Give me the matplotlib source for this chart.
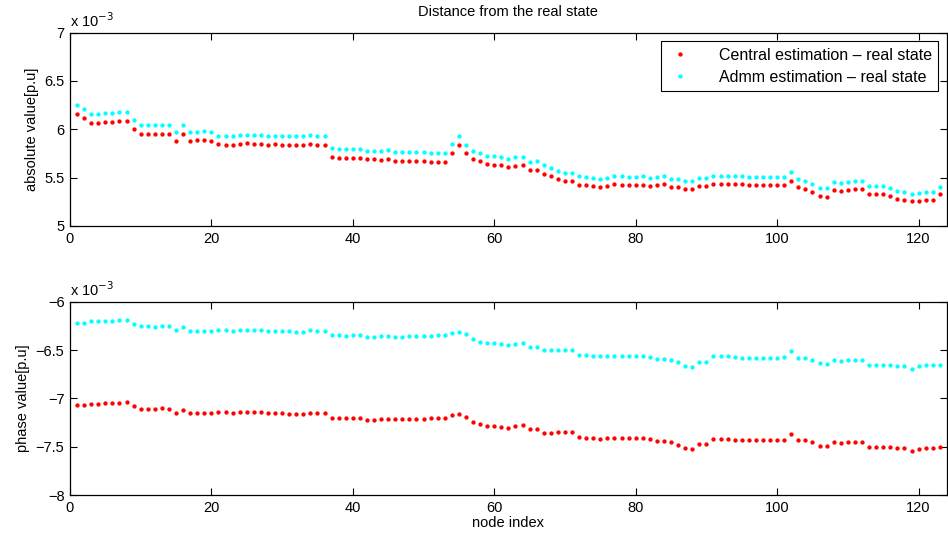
import numpy as np
import matplotlib
matplotlib.use("Agg")
import matplotlib.pyplot as plt

plt.rcParams["font.family"] = ["Liberation Sans", "DejaVu Sans"]

# node 1..123, values in units of 1e-3 p.u.
node = np.arange(1, 124)

abs_central = [
    6.155, 6.114, 6.068, 6.068, 6.075, 6.079, 6.082, 6.089, 6.000, 5.955,
    5.955, 5.951, 5.955, 5.955, 5.882, 5.951, 5.882, 5.886, 5.886, 5.882,
    5.845, 5.841, 5.838, 5.848, 5.855, 5.848, 5.848, 5.841, 5.845,
    5.841, 5.838, 5.838, 5.838, 5.845, 5.841, 5.834, 5.717, 5.704, 5.704,
    5.704, 5.700, 5.690, 5.690, 5.683, 5.693, 5.673, 5.669, 5.669, 5.669,
    5.669, 5.662, 5.662, 5.666, 5.755, 5.841, 5.755, 5.690,
    5.669, 5.642, 5.635, 5.631, 5.607, 5.624, 5.628, 5.576, 5.580, 5.542,
    5.518, 5.483, 5.463, 5.463, 5.428, 5.421, 5.414, 5.407, 5.411, 5.431,
    5.428, 5.425, 5.428, 5.428, 5.414, 5.421, 5.431, 5.407, 5.407,
    5.383, 5.380, 5.411, 5.411, 5.435, 5.438, 5.438, 5.431, 5.431, 5.428,
    5.428, 5.425, 5.425, 5.428, 5.428, 5.469, 5.404, 5.380, 5.356, 5.308,
    5.304, 5.373, 5.366, 5.376, 5.383, 5.383, 5.335, 5.335, 5.335, 5.314,
    5.280, 5.266, 5.256,
    5.26, 5.27, 5.27, 5.33,
]

abs_admm = [
    6.248, 6.207, 6.158, 6.161, 6.168, 6.172, 6.175, 6.179, 6.096, 6.048,
    6.048, 6.044, 6.048, 6.048, 5.975, 6.044, 5.975, 5.975, 5.979, 5.975,
    5.931, 5.931, 5.927, 5.937, 5.944, 5.941, 5.937, 5.934, 5.934,
    5.931, 5.934, 5.931, 5.927, 5.938, 5.934, 5.927, 5.810, 5.796, 5.796,
    5.793, 5.793, 5.779, 5.779, 5.776, 5.786, 5.762, 5.762, 5.762, 5.762,
    5.762, 5.752, 5.752, 5.755, 5.845, 5.927, 5.838, 5.776,
    5.755, 5.724, 5.721, 5.717, 5.693, 5.710, 5.714, 5.662, 5.669, 5.628,
    5.600, 5.566, 5.545, 5.545, 5.514, 5.507, 5.497, 5.490, 5.493, 5.514,
    5.514, 5.511, 5.511, 5.514, 5.497, 5.504, 5.514, 5.490, 5.487,
    5.466, 5.463, 5.493, 5.493, 5.518, 5.521, 5.521, 5.514, 5.514, 5.511,
    5.511, 5.511, 5.507, 5.507, 5.507, 5.555, 5.487, 5.463, 5.438, 5.390,
    5.390, 5.456, 5.449, 5.459, 5.469, 5.469, 5.418, 5.418, 5.418, 5.397,
    5.363, 5.349, 5.335,
    5.34, 5.35, 5.35, 5.40,
]

phase_central = [
    -7.073, -7.069, -7.056, -7.056, -7.049, -7.049, -7.045, -7.042, -7.083, -7.111,
    -7.111, -7.114, -7.100, -7.107, -7.152, -7.118, -7.152, -7.152, -7.152, -7.152,
    -7.145, -7.145, -7.152, -7.142, -7.138, -7.145, -7.142, -7.152, -7.152,
    -7.152, -7.159, -7.163, -7.166, -7.152, -7.156, -7.156, -7.204, -7.204, -7.207,
    -7.207, -7.204, -7.221, -7.221, -7.214, -7.211, -7.218, -7.218, -7.211, -7.211,
    -7.211, -7.207, -7.207, -7.200, -7.176, -7.163, -7.190, -7.242,
    -7.266, -7.283, -7.287, -7.297, -7.304, -7.290, -7.280, -7.318, -7.318, -7.356,
    -7.356, -7.352, -7.352, -7.352, -7.404, -7.408, -7.411, -7.418, -7.414, -7.408,
    -7.411, -7.411, -7.411, -7.414, -7.421, -7.442, -7.442, -7.452, -7.480,
    -7.518, -7.528, -7.477, -7.473, -7.418, -7.421, -7.418, -7.428, -7.435, -7.428,
    -7.432, -7.432, -7.435, -7.432, -7.432, -7.366, -7.435, -7.432, -7.452, -7.490,
    -7.497, -7.452, -7.459, -7.452, -7.456, -7.456, -7.504, -7.504, -7.504, -7.508,
    -7.515, -7.515, -7.546,
    -7.52, -7.51, -7.51, -7.50,
]

phase_admm = [
    -6.224, -6.217, -6.203, -6.203, -6.200, -6.196, -6.193, -6.189, -6.234, -6.255,
    -6.255, -6.262, -6.248, -6.255, -6.296, -6.258, -6.300, -6.300, -6.300, -6.300,
    -6.296, -6.296, -6.300, -6.289, -6.289, -6.293, -6.293, -6.300, -6.300,
    -6.300, -6.307, -6.310, -6.314, -6.296, -6.300, -6.300, -6.348, -6.348, -6.352,
    -6.348, -6.348, -6.365, -6.365, -6.359, -6.355, -6.362, -6.362, -6.355, -6.355,
    -6.355, -6.352, -6.348, -6.345, -6.324, -6.314, -6.338, -6.386,
    -6.414, -6.431, -6.431, -6.441, -6.452, -6.438, -6.428, -6.465, -6.465, -6.503,
    -6.503, -6.503, -6.503, -6.503, -6.552, -6.555, -6.562, -6.566, -6.562, -6.559,
    -6.559, -6.562, -6.559, -6.562, -6.569, -6.590, -6.590, -6.607, -6.624,
    -6.662, -6.673, -6.621, -6.621, -6.566, -6.566, -6.566, -6.576, -6.583, -6.579,
    -6.579, -6.579, -6.583, -6.579, -6.576, -6.514, -6.579, -6.579, -6.600, -6.638,
    -6.645, -6.604, -6.610, -6.600, -6.604, -6.607, -6.655, -6.655, -6.655, -6.659,
    -6.666, -6.662, -6.697,
    -6.67, -6.66, -6.66, -6.65,
]

labels = ["Central estimation \u2013 real state", "Admm estimation \u2013 real state"]
xticks = [0, 20, 40, 60, 80, 100, 120]

fig = plt.figure(figsize=(9.48, 5.4), dpi=100)
ax1 = fig.add_axes([0.0738, 0.5815, 0.925, 0.358])
ax2 = fig.add_axes([0.0738, 0.0833, 0.925, 0.358])

ax1.plot(node, abs_central, ".", color="#ff0000", ms=4.2, label=labels[0])
ax1.plot(node, abs_admm, ".", color="#00ffff", ms=4.2, label=labels[1])
ax2.plot(node, phase_central, ".", color="#ff0000", ms=4.2)
ax2.plot(node, phase_admm, ".", color="#00ffff", ms=4.2)

ax1.set_ylim(5, 7)
ax1.set_yticks([5, 5.5, 6, 6.5, 7])
ax1.set_yticklabels(["5", "5.5", "6", "6.5", "7"])
ax2.set_ylim(-8, -6)
ax2.set_yticks([-8, -7.5, -7, -6.5, -6])
ax2.set_yticklabels(["\u22128", "\u22127.5", "\u22127", "\u22126.5", "\u22126"])

for ax in (ax1, ax2):
    ax.set_xlim(0, 124)
    ax.set_xticks(xticks)
    ax.tick_params(direction="in", top=True, right=True, length=5, width=0.8,
                   labelsize=10.5, pad=4)
    for s in ax.spines.values():
        s.set_linewidth(0.9)
    ax.text(0.0, 1.015, r"x 10$^{-3}$", transform=ax.transAxes, fontsize=10.5,
            ha="left", va="bottom")

ax1.set_title("Distance from the real state", fontsize=10.5, pad=12)
ax1.set_ylabel("absolute value[p.u]", fontsize=10.5)
ax2.set_ylabel("phase value[p.u]", fontsize=10.5)
ax2.set_xlabel("node index", fontsize=10.5, labelpad=1)

leg = ax1.legend(loc="upper right", fontsize=11.5, frameon=True, fancybox=False,
                 framealpha=1, edgecolor="black", handlelength=1.6,
                 borderaxespad=0.55, handletextpad=1.6, labelspacing=0.45,
                 borderpad=0.4, markerscale=1.0)
leg.get_frame().set_linewidth(0.8)

fig.savefig("out.png", dpi=100)
